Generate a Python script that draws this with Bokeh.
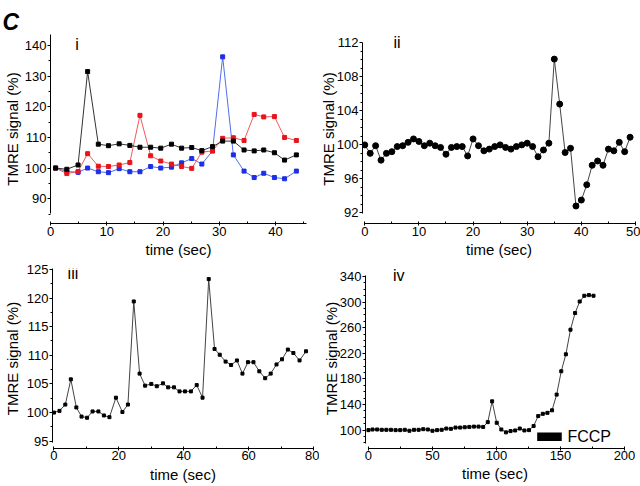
from bokeh.plotting import figure
from bokeh.layouts import column, row
from bokeh.models import Label, BoxAnnotation, FixedTicker, Range1d
from bokeh.embed import file_html
from bokeh.resources import INLINE

FONT = "Liberation Sans"

# ---------------- data ----------------
# panel i : three cells (black, red, blue)
t1 = [0.9, 2.9, 4.9, 6.6, 8.5, 10.3, 12.2, 14.1, 15.9, 17.8, 19.6, 21.5,
      23.3, 25.1, 26.9, 28.8, 30.6, 32.5, 34.4, 36.2, 37.9, 39.8, 41.6, 43.7]
black1 = [100.0, 99.6, 101.0, 131.5, 107.8, 107.3, 107.9, 107.4, 106.8, 106.8, 106.5, 107.8,
          106.5, 106.7, 105.7, 107.0, 108.8, 108.8, 105.9, 105.6, 105.9, 105.0, 102.6, 104.3]
red1 = [100.0, 98.2, 98.9, 104.7, 100.6, 100.5, 101.0, 101.8, 117.2, 104.0, 102.3, 101.3,
        100.5, 99.9, 105.2, 105.6, 109.7, 109.9, 109.0, 117.5, 116.7, 116.8, 110.0, 109.0]
blue1 = [100.0, 98.9, 98.6, 100.0, 98.8, 98.5, 99.8, 98.8, 98.8, 100.5, 100.0, 100.3,
         101.7, 103.1, 101.3, 105.6, 136.3, 104.3, 99.0, 96.9, 98.3, 96.9, 96.5, 99.0]

# panel ii
t2 = [0, 1, 2, 3, 4, 5, 6, 7, 8, 9, 10, 11, 12, 13, 14, 15, 16, 17, 18, 19, 20, 21, 22, 23, 24,
      25, 26, 27, 28, 29, 30, 31, 32, 33, 34, 35, 36, 37, 38, 39, 40, 41, 42, 43, 44, 45, 46, 47, 48, 49]
y2 = [100.0, 99.0, 99.9, 98.2, 99.0, 99.2, 99.8, 99.9, 100.3, 100.7, 100.4, 99.9, 100.2, 99.9, 99.7,
      98.9, 99.7, 99.8, 99.8, 98.7, 100.7, 99.9, 99.3, 99.5, 99.8, 100.0, 99.7, 99.5, 99.8, 100.0,
      100.2, 99.8, 98.6, 99.4, 100.2, 110.1, 104.8, 99.1, 99.6, 92.8, 93.5, 95.3, 97.6, 98.1, 97.6,
      99.5, 99.3, 100.3, 99.2, 100.9]

# panel iii
t3 = [0, 1.7, 3.5, 5.2, 6.9, 8.5, 10.2, 11.9, 13.7, 15.4, 17.1, 19.1, 21.1, 22.8, 24.6, 26.4,
      28.1, 30.0, 31.7, 33.6, 35.2, 37.0, 38.7, 40.4, 42.2, 44.0, 45.8, 47.7, 49.5, 51.1, 52.9,
      54.6, 56.4, 58.1, 59.8, 61.5, 63.3, 65.1, 66.8, 68.6, 70.3, 72.1, 73.8, 75.7, 77.7]
y3 = [100.0, 100.3, 101.4, 105.8, 100.9, 99.3, 99.1, 100.2, 100.2, 99.5, 99.2, 102.6, 100.1,
      101.4, 119.4, 106.8, 104.7, 105.0, 104.6, 105.1, 104.4, 104.4, 103.7, 103.7, 103.7, 104.8,
      102.6, 123.3, 111.1, 110.1, 108.9, 108.3, 109.1, 106.8, 108.8, 108.8, 107.2, 106.0, 106.8,
      108.4, 109.3, 111.0, 110.4, 109.1, 110.7]

# panel iv
t4 = [0, 3.2, 6.8, 10.4, 14.0, 17.6, 21.2, 24.8, 28.4, 32.0, 35.6, 39.2, 42.8, 46.4, 50.0, 53.6,
      57.2, 60.8, 64.4, 68.0, 71.6, 75.2, 78.8, 82.4, 86.0, 89.6, 93.2, 96.6, 100.2, 103.8, 107.4,
      111.0, 114.6, 118.2, 121.8, 125.4, 129.0, 132.6, 136.2, 139.8, 143.4, 147.0, 150.6, 154.2,
      157.8, 161.4, 165.0, 168.6, 172.2, 175.8]
y4 = [100, 101, 101, 100.5, 100.5, 100.5, 100, 100, 100.5, 99, 100.5, 100.5, 101.5, 101, 99, 100,
      100.5, 102.5, 102, 104, 104, 104.5, 105, 105.5, 105.5, 105, 112.5, 145, 111.5, 101, 96.5,
      98.5, 99.5, 102.5, 99.5, 100, 106.5, 122, 125.5, 127, 131, 155.5, 192, 218.5, 257, 283,
      301, 310, 311, 310]
fccp_period = [131.8, 151.0]
fccp_bar_y = [83.0, 96.4]

# tick labels
xt1 = [0, 10, 20, 30, 40]
xm1 = [5, 15, 25, 35, 45]
yt1 = [90, 100, 110, 120, 130, 140]
ym1 = [85, 95, 105, 115, 125, 135]
xt2 = [0, 10, 20, 30, 40, 50]
xm2 = [5, 15, 25, 35, 45]
yt2 = [92, 96, 100, 104, 108, 112]
ym2 = [93, 94, 95, 97, 98, 99, 101, 102, 103, 105, 106, 107, 109, 110, 111]
xt3 = [0, 20, 40, 60, 80]
xm3 = [10, 30, 50, 70]
yt3 = [95, 100, 105, 110, 115, 120, 125]
ym3 = [97.5, 102.5, 107.5, 112.5, 117.5, 122.5]
xt4 = [0, 50, 100, 150, 200]
xm4 = [25, 75, 125, 175]
yt4 = [100, 140, 180, 220, 260, 300, 340]
ym4 = [80, 90, 110, 120, 130, 150, 160, 170, 190, 200, 210, 230, 240, 250, 270, 280, 290,
       310, 320, 330]

X_LABEL = "time (sec)"
Y_LABEL = "TMRE signal (%)"


def make_fig(w, h, xr, yr, borders):
    p = figure(width=w, height=h, x_range=Range1d(*xr), y_range=Range1d(*yr),
               output_backend="svg", toolbar_location=None,
               min_border_left=borders[0], min_border_right=borders[1],
               min_border_top=borders[2], min_border_bottom=borders[3])
    p.outline_line_color = None
    p.xgrid.visible = False
    p.ygrid.visible = False
    return p


def style_axes(p, xt, xm, xb, yt, ym, yb, xs1, xs2, ys):
    xa = p.xaxis[0]
    ya = p.yaxis[0]
    xa.ticker = FixedTicker(ticks=xt, minor_ticks=xm)
    ya.ticker = FixedTicker(ticks=yt, minor_ticks=ym)
    xa.bounds = xb
    ya.bounds = yb
    for a in (xa, ya):
        a.axis_line_color = "black"
        a.axis_line_width = 1
        a.major_tick_line_color = "black"
        a.minor_tick_line_color = "black"
        a.major_label_text_font = FONT
        a.major_label_text_font_size = "13px"
        a.major_label_text_color = "black"
        a.axis_label_text_font = FONT
        a.axis_label_text_font_size = "15px"
        a.axis_label_text_font_style = "normal"
        a.axis_label_text_color = "black"
    xa.major_tick_in = 2
    xa.major_tick_out = 2
    xa.minor_tick_in = 2
    xa.minor_tick_out = 0
    xa.major_label_standoff = xs1
    xa.axis_label_standoff = xs2
    ya.major_tick_in = 0
    ya.major_tick_out = 3
    ya.minor_tick_in = 0
    ya.minor_tick_out = 2
    ya.major_label_standoff = 1
    ya.axis_label_standoff = ys
    xa.axis_label = X_LABEL
    ya.axis_label = Y_LABEL


def panel_label(p, x, y, txt):
    p.add_layout(Label(x=x, y=y, text=txt, text_font=FONT, text_font_size="16px",
                       text_baseline="middle", text_align="left", text_color="black"))


# ---------- panel i ----------
p1 = make_fig(316, 260, (0, 45.5), (81.9, 143.6), (48, 10, 34, 37))
style_axes(p1, xt1, xm1, (0, 45.5), yt1, ym1, (85.1, 143.6), 1, 2, 1)
p1.title.text = "C"
p1.title.text_font = FONT
p1.title.text_font_size = "23px"
p1.title.text_font_style = "bold italic"
p1.title.text_color = "black"
p1.title.align = "left"
p1.title.offset = -48
p1.title.standoff = 0
p1.line(t1, blue1, line_color="#4f6fe8", line_width=1)
p1.scatter(t1, blue1, marker="square", size=4, fill_color="#1c2ee6", line_color="#1c2ee6")
p1.line(t1, red1, line_color="#f05a5a", line_width=1)
p1.scatter(t1, red1, marker="square", size=4, fill_color="#e8141c", line_color="#e8141c")
p1.line(t1, black1, line_color="#333333", line_width=1)
p1.scatter(t1, black1, marker="square", size=4, fill_color="black", line_color="black")
panel_label(p1, 4.4, 140.3, "i")

# ---------- panel ii ----------
p2 = make_fig(324, 260, (-0.42, 50), (90.74, 113.0), (45, 5, 34, 37))
style_axes(p2, xt2, xm2, (0, 50), yt2, ym2, (91.9, 112.1), 1, 2, -3)
p2.line(t2, y2, line_color="#444444", line_width=1)
p2.scatter(t2, y2, marker="circle", size=6, fill_color="black", line_color="black")
panel_label(p2, 5.3, 112.0, "ii")

# ---------- panel iii ----------
p3 = make_fig(319, 226, (-0.45, 80), (93.73, 125.15), (50, 6, 8, 37))
style_axes(p3, xt3, xm3, (0, 80), yt3, ym3, (94.7, 125.15), 0, 3, 3)
p3.line(t3, y3, line_color="#444444", line_width=1)
p3.scatter(t3, y3, marker="square", size=3, fill_color="black", line_color="black")
panel_label(p3, 4.2, 124.2, "iii")

# ---------- panel iv ----------
p4 = make_fig(321, 226, (-2.3, 200), (71.3, 352.6), (44, 16, 6, 38))
style_axes(p4, xt4, xm4, (0, 200), yt4, ym4, (79, 341.3), 0, 2, -3)
p4.line(t4, y4, line_color="#444444", line_width=1)
p4.scatter(t4, y4, marker="square", size=3, fill_color="black", line_color="black")
p4.add_layout(BoxAnnotation(left=fccp_period[0], right=fccp_period[1],
                            bottom=fccp_bar_y[0], top=fccp_bar_y[1],
                            fill_color="black", fill_alpha=1.0, line_color=None))
p4.add_layout(Label(x=155.4, y=89.5, text="FCCP", text_font=FONT, text_font_size="16px",
                    text_baseline="middle", text_align="left", text_color="black"))
panel_label(p4, 19.1, 341.5, "iv")

layout = column(row(p1, p2), row(p3, p4))
open("out.html", "w").write(file_html(layout, INLINE))
